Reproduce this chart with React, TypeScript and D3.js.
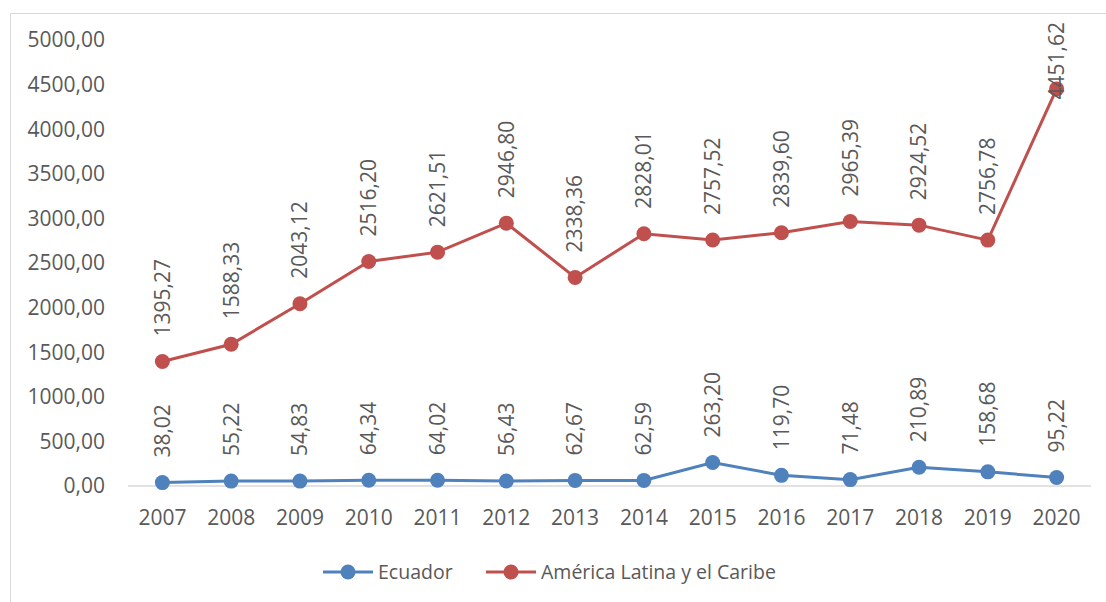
import React from "react";
import * as d3 from "d3";

const years = ["2007","2008","2009","2010","2011","2012","2013","2014","2015","2016","2017","2018","2019","2020"];
const ecuador = [38.02, 55.22, 54.83, 64.34, 64.02, 56.43, 62.67, 62.59, 263.20, 119.70, 71.48, 210.89, 158.68, 95.22];
const latam = [1395.27, 1588.33, 2043.12, 2516.20, 2621.51, 2946.80, 2338.36, 2828.01, 2757.52, 2839.60, 2965.39, 2924.52, 2756.78, 4451.62];
const yTicks = [0, 500, 1000, 1500, 2000, 2500, 3000, 3500, 4000, 4500, 5000];
const seriesNames = ["Ecuador", "América Latina y el Caribe"];
const seriesColors = ["#4F81BD", "#C0504D"];

const W = 1106, H = 602;
const FONT = "'Open Sans', sans-serif";
const FS = 21;
const TEXT = "#595959";

const fmt = (v: number) => v.toFixed(2).replace(".", ",");

let ctx: CanvasRenderingContext2D | null = null;
function measure(s: string) {
  if (!ctx) ctx = document.createElement("canvas").getContext("2d");
  if (!ctx) return s.length * 11;
  ctx.font = `${FS}px ${FONT}`;
  return ctx.measureText(s).width;
}

export default function App() {
  const x = d3.scaleBand().domain(years).range([128, 1091]);
  const y = d3.scaleLinear().domain([0, 5000]).range([486, 40]);
  const cx = (d: string) => (x(d) as number) + x.bandwidth() / 2;
  const line = d3.line<number>().x((_, i) => cx(years[i])).y(v => y(v));
  const series = [ecuador, latam];

  return (
    <svg width={W} height={H} style={{ position: "absolute", left: 0, top: 0, background: "#fff" }} fontFamily={FONT}>
      <rect x={10.5} y={13.5} width={W} height={H} fill="#fff" stroke="#D9D9D9" strokeWidth={1} />
      {yTicks.map(t => (
        <text key={t} x={105} y={y(t)} dy="0.35em" textAnchor="end" fontSize={FS} fill={TEXT}>{fmt(t)}</text>
      ))}
      <line x1={x.range()[0]} x2={x.range()[1]} y1={y(0)} y2={y(0)} stroke="#D9D9D9" strokeWidth={1.5} />
      {years.map(yr => (
        <text key={yr} x={cx(yr)} y={525} textAnchor="middle" fontSize={FS} fill={TEXT}>{yr}</text>
      ))}
      {series.map((s, si) => (
        <g key={si}>
          <path d={line(s) || ""} fill="none" stroke={seriesColors[si]} strokeWidth={3} />
          {s.map((v, i) => (
            <circle key={i} cx={cx(years[i])} cy={y(v)} r={7.5} fill={seriesColors[si]} />
          ))}
        </g>
      ))}
      {series.map((s, si) => (
        <g key={"l" + si}>
          {s.map((v, i) => {
            const label = fmt(v);
            const len = measure(label);
            let start = y(v) - 25;
            if (start - len < 22) start = 22 + len;
            const px = cx(years[i]);
            return (
              <text key={i} transform={`translate(${px},${start}) rotate(-90)`} dy="0.35em" textAnchor="start" fontSize={FS} fill={TEXT}>{label}</text>
            );
          })}
        </g>
      ))}
      {/* legend */}
      <g>
        <line x1={323} x2={373} y1={572} y2={572} stroke={seriesColors[0]} strokeWidth={3} />
        <circle cx={348} cy={572} r={7.5} fill={seriesColors[0]} />
        <text x={378} y={572} dy="0.35em" fontSize={19.5} fill={TEXT}>{seriesNames[0]}</text>
        <line x1={486} x2={536} y1={572} y2={572} stroke={seriesColors[1]} strokeWidth={3} />
        <circle cx={511} cy={572} r={7.5} fill={seriesColors[1]} />
        <text x={541} y={572} dy="0.35em" fontSize={19.5} fill={TEXT}>{seriesNames[1]}</text>
      </g>
    </svg>
  );
}
